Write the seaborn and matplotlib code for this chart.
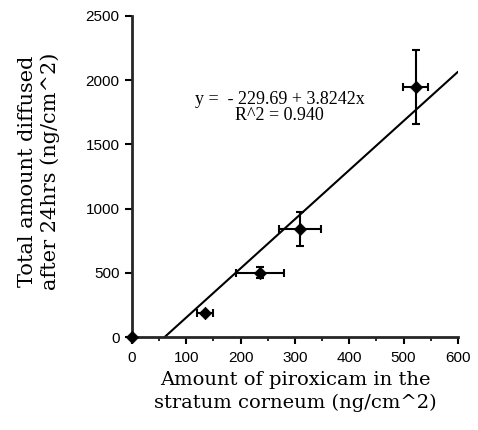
import matplotlib
matplotlib.use("Agg")
import matplotlib.pyplot as plt
import numpy as np
import pandas as pd
import seaborn as sns
from matplotlib.ticker import MultipleLocator

# measured points (mean ± error)
amount_sc = [0, 134, 236, 309, 522]
amount_diffused = [0, 184, 501, 843, 1949]
x_err = [0, 15, 44, 39, 23]
y_err = [0, 10, 42, 130, 288]

intercept = -229.69
slope = 3.8242
r_squared = 0.940
fit_x = [60.06, 600]

x_ticks = [0, 100, 200, 300, 400, 500, 600]
y_ticks = [0, 500, 1000, 1500, 2000, 2500]

sns.set_style("ticks")
plt.rcParams["font.family"] = ["Liberation Serif", "DejaVu Serif"]
plt.rcParams["text.color"] = "black"
plt.rcParams["axes.labelcolor"] = "black"
plt.rcParams["xtick.color"] = "black"
plt.rcParams["ytick.color"] = "black"

df = pd.DataFrame({"x": amount_sc, "y": amount_diffused})
fit = pd.DataFrame({"x": fit_x, "y": [intercept + slope * v for v in fit_x]})

fig = plt.figure(figsize=(4.78, 4.30), dpi=100)
ax = fig.add_axes([0.276, 0.216, 0.682, 0.747])

sns.lineplot(data=fit, x="x", y="y", ax=ax, color="black", linewidth=1.5)
ax.errorbar(df["x"], df["y"], xerr=x_err, yerr=y_err, fmt="none",
            ecolor="black", elinewidth=1.5, capsize=3, capthick=1.5)
sns.scatterplot(data=df, x="x", y="y", ax=ax, marker="D", s=40,
                color="black", edgecolor="black", zorder=5, clip_on=False)

ax.text(272, 1846, f"y =  - {abs(intercept):.2f} + {slope}x", ha="center",
        va="center", fontsize=13)
ax.text(272, 1721, f"R^2 = {r_squared:.3f}", ha="center", va="center",
        fontsize=13)

ax.set_xlim(0, 600)
ax.set_ylim(0, 2500)
ax.set_xticks(x_ticks)
ax.set_yticks(y_ticks)
ax.xaxis.set_minor_locator(MultipleLocator(50))
ax.tick_params(axis="x", which="major", direction="out", length=5, width=1.5,
               labelsize=11, pad=5)
ax.tick_params(axis="x", which="minor", direction="out", length=3, width=1.2)
ax.tick_params(axis="y", which="major", direction="out", length=5, width=1.5,
               labelsize=11, pad=4)
for lab in ax.get_xticklabels() + ax.get_yticklabels():
    lab.set_family("Liberation Sans")

ax.set_xlabel("Amount of piroxicam in the\nstratum corneum (ng/cm^2)",
              fontsize=14, labelpad=4, linespacing=1.35, family="DejaVu Serif")
ax.set_ylabel("Total amount diffused\nafter 24hrs (ng/cm^2)", fontsize=15,
              linespacing=1.2, family="DejaVu Serif")
ax.yaxis.set_label_coords(-0.222, 0.515)

sns.despine(ax=ax)
for side in ["left", "bottom"]:
    ax.spines[side].set_linewidth(2)

fig.savefig("out.png", dpi=100)
